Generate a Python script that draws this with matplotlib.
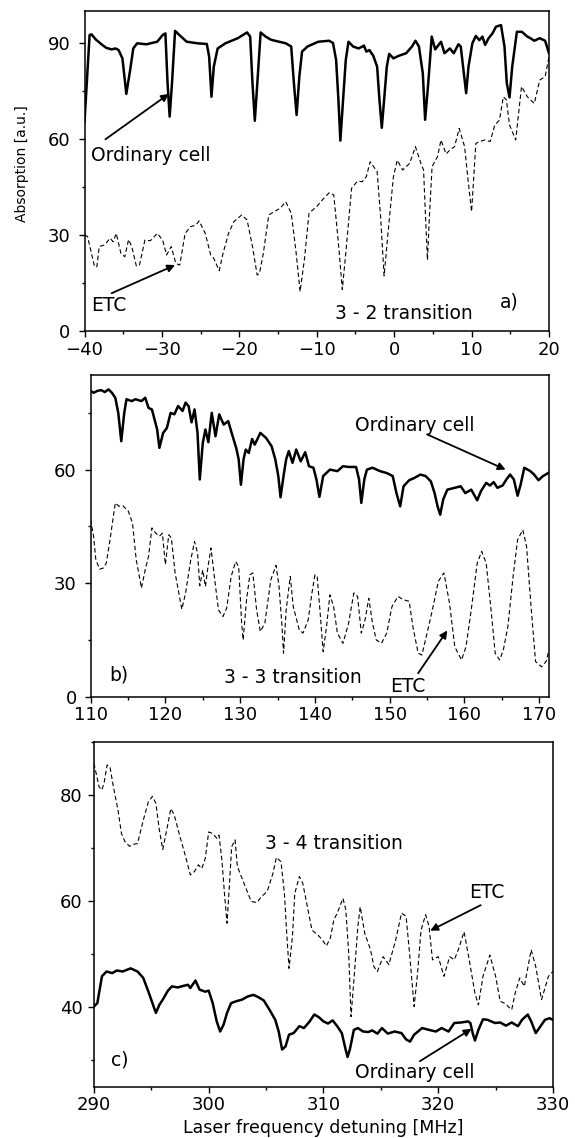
import matplotlib
matplotlib.use("Agg")
import matplotlib.pyplot as plt
import numpy as np
from matplotlib.ticker import MultipleLocator

# ---- data (detuning in MHz, absorption in a.u.) ----
# panel a), 3 - 2 transition
A_ORD = np.array([
    (-40.0, 65.4), (-39.34, 92.5), (-39.1, 92.7), (-38.5, 91.0), (-37.7, 89.4),
    (-37.2, 88.5), (-36.5, 88.0), (-36.0, 88.3), (-35.6, 87.8), (-35.1, 85.2),
    (-34.6, 74.1), (-34.1, 81.6), (-33.7, 88.3), (-33.2, 89.9), (-32.0, 89.6),
    (-30.6, 90.4), (-29.9, 92.5), (-29.55, 93.0), (-29.27, 77.4), (-29.0, 67.0),
    (-28.7, 77.4), (-28.3, 93.8), (-27.75, 92.5), (-26.8, 90.4), (-25.4, 89.9),
    (-24.2, 89.7), (-23.9, 85.7), (-23.6, 73.2), (-23.3, 82.6), (-22.8, 88.3),
    (-21.8, 89.9), (-20.2, 91.5), (-19.0, 93.3), (-18.6, 92.0), (-18.3, 77.4),
    (-18.0, 65.7), (-17.65, 78.4), (-17.25, 93.3), (-16.6, 92.0), (-15.9, 91.0),
    (-14.0, 89.9), (-13.3, 88.9), (-12.95, 77.4), (-12.6, 67.5), (-12.25, 79.5),
    (-11.9, 87.3), (-11.2, 88.9), (-9.8, 90.4), (-8.4, 90.7), (-7.9, 90.0),
    (-7.5, 84.7), (-7.2, 72.2), (-6.95, 59.5), (-6.6, 72.2), (-6.25, 84.7),
    (-5.9, 90.4), (-5.3, 88.9), (-4.6, 88.3), (-4.1, 88.9), (-3.9, 89.2),
    (-3.6, 87.3), (-3.2, 87.8), (-2.7, 86.0), (-2.2, 82.6), (-1.9, 72.2),
    (-1.6, 63.5), (-1.3, 72.2), (-0.95, 82.6), (-0.65, 86.6), (-0.1, 85.2),
    (0.6, 86.0), (1.55, 86.8), (2.3, 88.9), (2.75, 90.7), (3.2, 88.9),
    (3.7, 80.5), (4.0, 66.0), (4.4, 77.4), (4.85, 92.0), (5.3, 88.0),
    (6.05, 90.4), (6.5, 86.8), (7.2, 88.3), (7.7, 86.8), (8.3, 89.6),
    (8.6, 88.9), (8.9, 82.6), (9.3, 74.3), (9.6, 82.6), (10.1, 89.9),
    (10.55, 92.2), (11.0, 90.9), (11.4, 92.0), (11.75, 89.4), (12.2, 91.5),
    (12.7, 93.0), (13.15, 95.1), (13.8, 95.6), (14.25, 88.9), (14.55, 77.4),
    (14.9, 73.0), (15.25, 82.6), (15.85, 93.5), (16.5, 93.5), (17.2, 92.0),
    (17.6, 91.5), (18.1, 90.7), (18.8, 91.5), (19.5, 90.7), (20.0, 86.8),
])
A_ETC = np.array([
    (-40.0, 30.0), (-39.6, 29.5), (-39.1, 24.3), (-38.7, 20.1), (-38.4, 20.1),
    (-38.1, 26.4), (-37.4, 26.9), (-36.7, 29.0), (-36.3, 27.9), (-35.9, 30.5),
    (-35.3, 24.3), (-34.8, 23.2), (-34.3, 28.6), (-33.9, 26.4), (-33.3, 20.3),
    (-32.9, 20.6), (-32.2, 28.4), (-31.5, 28.2), (-30.6, 30.5), (-29.9, 28.4),
    (-29.4, 23.75), (-28.8, 26.4), (-28.2, 21.1), (-27.7, 20.6), (-27.0, 30.5),
    (-26.3, 32.6), (-25.6, 33.1), (-25.2, 34.4), (-24.4, 30.5), (-23.7, 23.75),
    (-23.3, 22.7), (-22.6, 18.85), (-22.1, 24.3), (-21.4, 30.5), (-20.7, 34.2),
    (-19.7, 36.25), (-19.0, 34.7), (-18.3, 26.4), (-17.7, 17.5), (-17.4, 18.0),
    (-16.9, 24.3), (-16.2, 36.25), (-15.5, 37.3), (-14.75, 38.3), (-14.0, 40.4),
    (-13.3, 36.8), (-12.7, 25.3), (-12.15, 12.3), (-11.6, 22.2), (-11.0, 36.8),
    (-10.0, 38.9), (-9.3, 40.9), (-8.4, 43.2), (-7.8, 42.5), (-7.2, 27.4),
    (-6.7, 13.0), (-6.25, 24.3), (-5.5, 44.6), (-4.8, 46.7), (-4.1, 46.7),
    (-3.6, 48.2), (-3.1, 52.9), (-2.2, 49.8), (-1.75, 35.7), (-1.3, 17.2),
    (-0.8, 30.5), (-0.1, 48.2), (0.4, 53.4), (1.1, 50.3), (2.0, 52.4),
    (2.75, 57.6), (3.45, 52.4), (3.8, 50.3), (4.05, 35.7), (4.3, 22.2),
    (4.55, 35.7), (4.9, 51.4), (5.6, 54.5), (6.05, 59.7), (6.7, 55.3),
    (7.2, 56.6), (7.8, 57.6), (8.4, 63.3), (9.1, 57.6), (9.5, 48.2),
    (10.0, 37.3), (10.55, 58.6), (11.0, 59.2), (11.7, 59.7), (12.4, 59.2),
    (13.0, 64.4), (13.6, 65.9), (14.1, 73.2), (14.5, 72.2), (14.9, 64.4),
    (15.7, 59.7), (16.45, 76.4), (17.2, 73.2), (18.1, 71.1), (18.8, 78.4),
    (19.5, 79.5), (20.0, 85.7),
])

# panel b), 3 - 3 transition
B_ORD = np.array([
    (110.0, 80.8), (110.4, 80.3), (110.9, 80.8), (111.4, 81.0), (111.9, 80.5),
    (112.4, 81.2), (112.85, 80.3), (113.3, 79.0), (113.7, 75.0), (114.1, 67.5),
    (114.5, 75.0), (114.8, 78.6), (115.5, 78.1), (116.0, 78.6), (116.8, 78.1),
    (117.3, 79.0), (117.75, 76.3), (118.2, 75.9), (118.9, 70.6), (119.2, 65.75),
    (119.7, 69.7), (120.2, 71.0), (120.7, 75.0), (121.2, 74.6), (121.7, 76.8),
    (122.3, 75.5), (122.7, 77.7), (123.1, 76.8), (123.5, 72.5), (123.9, 75.9),
    (124.3, 69.7), (124.6, 57.4), (125.0, 67.0), (125.35, 70.6), (125.75, 67.25),
    (126.2, 75.0), (126.7, 68.8), (127.2, 74.6), (127.8, 71.9), (128.4, 72.8),
    (129.0, 68.8), (129.5, 65.5), (129.8, 62.7), (130.1, 56.0), (130.45, 62.7),
    (130.75, 65.3), (131.15, 64.4), (131.6, 68.1), (131.95, 66.6), (132.7, 69.7),
    (133.45, 68.4), (134.2, 66.2), (134.7, 62.7), (135.1, 58.3), (135.4, 52.7),
    (135.8, 58.3), (136.15, 62.7), (136.5, 64.9), (137.0, 61.8), (137.5, 65.3),
    (138.1, 62.2), (138.7, 64.6), (139.2, 60.9), (139.8, 60.5), (140.2, 57.4),
    (140.6, 52.8), (141.1, 58.3), (142.0, 60.0), (143.0, 59.6), (143.75, 60.9),
    (144.5, 60.7), (145.5, 60.7), (145.9, 57.4), (146.2, 51.2), (146.6, 57.4),
    (146.95, 60.0), (147.7, 60.5), (148.7, 59.6), (149.6, 59.1), (150.4, 58.3),
    (150.9, 53.8), (151.4, 50.3), (151.85, 55.6), (152.6, 57.2), (153.3, 57.8),
    (154.1, 58.7), (154.8, 58.3), (155.5, 56.9), (156.0, 53.8), (156.4, 50.3),
    (156.75, 48.1), (157.15, 52.1), (157.7, 54.7), (158.7, 55.2), (159.5, 55.6),
    (160.1, 53.8), (160.9, 54.7), (161.7, 51.9), (162.2, 54.3), (162.9, 56.5),
    (163.4, 55.8), (163.9, 56.7), (164.4, 55.2), (165.1, 55.8), (165.6, 57.4),
    (166.1, 58.7), (166.6, 57.4), (167.1, 53.1), (167.5, 56.0), (168.0, 60.5),
    (168.8, 59.6), (169.3, 58.7), (169.9, 57.2), (170.5, 58.3), (171.2, 59.1),
])
B_ETC = np.array([
    (110.0, 46.8), (110.4, 42.4), (110.7, 36.2), (111.2, 33.7), (111.7, 34.0),
    (112.1, 35.3), (112.6, 41.5), (113.3, 51.2), (113.8, 50.3), (114.3, 50.5),
    (115.05, 49.0), (115.6, 45.9), (116.1, 36.2), (116.8, 28.7), (117.3, 33.5),
    (117.75, 37.1), (118.2, 44.6), (118.7, 43.2), (119.2, 42.4), (119.6, 43.2),
    (120.0, 34.9), (120.45, 42.8), (120.8, 41.9), (121.3, 32.7), (122.2, 23.1),
    (122.7, 27.4), (123.4, 36.2), (123.9, 41.0), (124.3, 38.0), (124.6, 29.3),
    (125.0, 33.5), (125.35, 29.1), (125.7, 34.4), (126.1, 39.3), (126.6, 30.9),
    (127.1, 22.9), (127.7, 21.2), (128.2, 23.4), (128.8, 31.8), (129.4, 35.7),
    (129.8, 34.4), (130.2, 19.4), (130.4, 15.0), (130.85, 25.6), (131.3, 32.2),
    (131.7, 32.7), (132.2, 22.9), (132.7, 17.2), (133.3, 19.4), (134.1, 30.9),
    (134.8, 34.7), (135.2, 29.1), (135.6, 18.5), (135.8, 11.5), (136.15, 22.9),
    (136.7, 31.8), (137.1, 23.8), (137.9, 17.7), (138.4, 16.8), (139.1, 20.3),
    (139.6, 27.4), (140.0, 32.2), (140.3, 31.8), (140.7, 22.0), (141.1, 11.9),
    (141.55, 18.5), (142.0, 26.9), (142.5, 23.8), (143.0, 16.8), (143.75, 14.1),
    (144.5, 19.4), (145.2, 27.4), (145.7, 26.5), (146.2, 16.8), (146.7, 20.3),
    (147.2, 26.0), (147.7, 19.4), (148.2, 15.0), (148.9, 14.1), (149.6, 16.8),
    (150.3, 23.8), (151.1, 26.5), (151.85, 25.6), (152.6, 25.2), (153.1, 18.5),
    (153.8, 11.5), (154.3, 11.0), (155.0, 16.8), (155.8, 23.8), (156.5, 30.5),
    (157.25, 32.7), (158.0, 24.7), (158.7, 13.2), (159.6, 9.7), (160.2, 13.2),
    (160.9, 22.9), (161.7, 35.3), (162.3, 38.4), (162.9, 35.3), (163.6, 22.0),
    (164.1, 11.5), (164.7, 9.7), (165.2, 12.4), (165.8, 18.5), (166.5, 31.8),
    (167.1, 41.5), (167.8, 44.1), (168.3, 39.7), (168.9, 23.8), (169.5, 9.3),
    (170.3, 7.9), (170.9, 9.3), (171.2, 11.5),
])

# panel c), 3 - 4 transition
C_ETC = np.array([
    (290.0, 85.9), (290.2, 84.0), (290.45, 81.5), (290.7, 80.9), (290.9, 82.4),
    (291.15, 85.6), (291.4, 85.3), (291.7, 81.5), (292.1, 77.1), (292.4, 72.7),
    (292.7, 71.2), (293.1, 70.3), (293.5, 70.7), (293.8, 70.8), (294.3, 75.2),
    (294.75, 78.7), (295.1, 79.7), (295.4, 78.4), (295.7, 73.4), (296.0, 69.7),
    (296.4, 74.0), (296.7, 77.4), (297.0, 76.2), (297.5, 72.1), (298.0, 68.3),
    (298.4, 64.9), (298.75, 65.5), (299.1, 66.8), (299.4, 66.1), (299.7, 68.0),
    (300.0, 73.0), (300.35, 72.7), (300.7, 71.8), (300.9, 72.4), (301.15, 67.7),
    (301.4, 60.8), (301.6, 55.8), (301.8, 62.7), (302.0, 70.2), (302.3, 71.5),
    (302.5, 66.5), (302.9, 64.3), (303.3, 62.1), (303.7, 59.9), (304.2, 59.7),
    (304.6, 60.8), (305.1, 61.8), (305.6, 65.2), (305.9, 68.2), (306.3, 67.4),
    (306.6, 61.4), (306.8, 53.9), (307.0, 47.3), (307.3, 53.3), (307.5, 61.4),
    (307.9, 64.6), (308.2, 63.3), (308.6, 58.9), (309.0, 54.5), (309.5, 53.6),
    (309.9, 52.7), (310.25, 51.5), (310.6, 53.0), (310.9, 56.4), (311.2, 57.7),
    (311.7, 60.5), (311.95, 58.3), (312.2, 50.2), (312.4, 38.2), (312.7, 46.4),
    (313.0, 55.2), (313.2, 58.9), (313.6, 53.9), (314.1, 50.8), (314.4, 47.6),
    (314.7, 46.7), (315.2, 49.5), (315.7, 48.0), (316.3, 52.7), (316.8, 57.7),
    (317.2, 57.1), (317.5, 50.2), (317.9, 40.1), (318.2, 46.4), (318.5, 54.5),
    (318.9, 57.4), (319.2, 55.2), (319.5, 48.9), (320.0, 49.5), (320.5, 45.8),
    (321.0, 49.5), (321.4, 48.9), (321.75, 50.8), (322.25, 54.2), (322.7, 48.9),
    (323.2, 42.6), (323.5, 40.4), (323.9, 45.8), (324.5, 49.8), (325.0, 45.8),
    (325.4, 41.1), (325.9, 40.6), (326.1, 40.1), (326.4, 39.5), (326.7, 42.6),
    (327.1, 45.5), (327.5, 43.9), (328.1, 50.8), (328.5, 47.6), (329.0, 41.4),
    (329.6, 45.8), (330.0, 46.7),
])
C_ORD = np.array([
    (290.0, 40.1), (290.3, 40.75), (290.7, 45.8), (291.1, 46.7), (291.6, 46.4),
    (292.0, 46.9), (292.5, 46.7), (293.2, 47.3), (293.8, 46.7), (294.3, 45.5),
    (294.8, 42.6), (295.1, 40.75), (295.4, 38.9), (295.7, 40.4), (296.0, 41.4),
    (296.45, 43.1), (296.8, 43.9), (297.3, 43.7), (297.8, 44.0), (298.2, 44.2),
    (298.4, 43.6), (298.85, 45.0), (299.2, 43.3), (299.7, 42.9), (300.0, 43.1),
    (300.35, 40.75), (300.7, 37.3), (301.0, 35.4), (301.3, 36.7), (301.6, 38.9),
    (301.95, 40.75), (302.4, 41.1), (302.9, 41.4), (303.4, 42.0), (303.9, 42.3),
    (304.3, 41.9), (304.8, 41.25), (305.3, 39.5), (305.8, 37.6), (306.1, 35.4),
    (306.4, 32.0), (306.7, 32.6), (307.0, 34.8), (307.4, 35.1), (307.9, 36.4),
    (308.3, 36.05), (308.8, 37.3), (309.2, 38.6), (309.6, 38.1), (310.0, 37.3),
    (310.4, 36.9), (310.8, 37.5), (311.2, 36.4), (311.6, 35.1), (311.9, 32.3),
    (312.1, 30.6), (312.3, 32.0), (312.65, 35.7), (313.0, 36.05), (313.45, 35.4),
    (313.9, 35.3), (314.25, 35.6), (314.7, 35.0), (315.1, 36.05), (315.6, 35.0),
    (316.2, 35.4), (316.8, 35.1), (317.2, 33.9), (317.55, 33.5), (317.9, 34.8),
    (318.6, 36.05), (319.2, 35.7), (319.8, 35.4), (320.3, 36.05), (320.9, 35.4),
    (321.4, 37.0), (322.0, 37.1), (322.6, 37.3), (322.8, 37.0), (323.0, 35.1),
    (323.2, 33.7), (323.5, 35.7), (323.9, 37.7), (324.3, 37.6), (324.95, 37.0),
    (325.4, 37.1), (325.9, 36.5), (326.4, 37.1), (326.95, 36.4), (327.3, 37.6),
    (327.8, 38.6), (328.1, 37.3), (328.5, 35.1), (328.8, 36.05), (329.3, 37.6),
    (329.7, 37.9), (330.0, 37.6),
])

plt.rcParams["font.family"] = "DejaVu Sans"

W, H = 575, 1138
fig = plt.figure(figsize=(W / 100, H / 100), dpi=100)


def make_axes(rect_px, xlim, ylim, xmaj, ymaj, ypad):
    left, top, right, bottom = rect_px
    ax = fig.add_axes([left / W, 1 - bottom / H, (right - left) / W, (bottom - top) / H])
    ax.set_xlim(*xlim)
    ax.set_ylim(*ylim)
    ax.xaxis.set_major_locator(MultipleLocator(xmaj))
    ax.xaxis.set_minor_locator(MultipleLocator(xmaj / 2))
    ax.yaxis.set_major_locator(MultipleLocator(ymaj))
    ax.yaxis.set_minor_locator(MultipleLocator(ymaj / 2))
    ax.tick_params(which="major", direction="out", length=4, width=1.0, labelsize=13)
    ax.tick_params(which="minor", direction="out", length=2.5, width=1.0)
    ax.tick_params(axis="x", which="major", pad=3)
    ax.tick_params(axis="y", which="major", pad=ypad)
    for s in ax.spines.values():
        s.set_linewidth(1.1)
    return ax


def draw(ax, ordinary, etc):
    ax.plot(ordinary[:, 0], ordinary[:, 1], color="black", lw=1.8, solid_joinstyle="round")
    ax.plot(etc[:, 0], etc[:, 1], color="black", lw=0.8, dashes=(4, 2.5))


def label(ax, text, xy, tail=None, tip=None, size=13.5):
    ax.text(xy[0], xy[1], text, fontsize=size, ha="left", va="baseline")
    if tail is not None:
        ax.annotate("", xy=tip, xytext=tail,
                    arrowprops=dict(arrowstyle="-|>", color="black", lw=1.3,
                                    mutation_scale=11, shrinkA=0, shrinkB=0))


# a)
ax_a = make_axes((84.5, 11, 549, 331), (-40, 20), (0, 100), 10, 30, 6)
draw(ax_a, A_ORD, A_ETC)
label(ax_a, "Ordinary cell", (-39.1, 53.0), (-37.3, 59.9), (-29.1, 74.1))
label(ax_a, "ETC", (-39.2, 6.3), (-36.5, 11.8), (-28.3, 20.6))
label(ax_a, "3 - 2 transition", (-7.6, 3.9))
label(ax_a, "a)", (13.6, 7.3))

# b)
ax_b = make_axes((90.6, 375, 549, 696.7), (110, 171.3), (0, 85), 10, 30, 6)
draw(ax_b, B_ORD, B_ETC)
label(ax_b, "Ordinary cell", (145.4, 70.2), (155.0, 69.3), (165.5, 60.0))
label(ax_b, "ETC", (150.0, 1.3), (153.8, 6.2), (157.7, 17.5))
label(ax_b, "3 - 3 transition", (127.9, 3.7))
label(ax_b, "b)", (112.5, 4.2))

# c)
ax_c = make_axes((93.9, 741.7, 553, 1086.7), (290, 330), (25, 90), 10, 20, 4)
draw(ax_c, C_ORD, C_ETC)
label(ax_c, "3 - 4 transition", (304.9, 69.7))
label(ax_c, "ETC", (322.7, 60.5), (323.7, 59.2), (319.3, 54.4))
label(ax_c, "c)", (291.5, 29.0))
label(ax_c, "Ordinary cell", (312.75, 26.6), (318.4, 29.8), (322.9, 35.9))

fig.text(22 / W, 1 - 164 / H, "Absorption [a.u.]", rotation=90, fontsize=10,
         ha="center", va="center")
fig.text(323 / W, 1 - 1128 / H, "Laser frequency detuning [MHz]", fontsize=12.5,
         ha="center", va="center")

fig.savefig("out.png", dpi=100)
